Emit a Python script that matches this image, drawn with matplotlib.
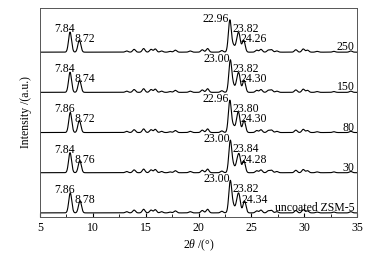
import numpy as np
import matplotlib
matplotlib.use("Agg")
import matplotlib.pyplot as plt
from matplotlib.ticker import MultipleLocator

plt.rcParams['font.family'] = ['Liberation Serif', 'DejaVu Serif']
plt.rcParams['mathtext.fontset'] = 'custom'
plt.rcParams['mathtext.rm'] = 'Liberation Serif'
plt.rcParams['mathtext.it'] = 'Liberation Serif:italic'

# samples, bottom to top
samples = ['uncoated ZSM-5', '30', '80', '150', '250']

# labelled peak positions (2theta) for each sample
peak_pos = [
    [7.86, 8.78, 23.00, 23.82, 24.34],
    [7.84, 8.76, 23.00, 23.84, 24.28],
    [7.86, 8.72, 22.96, 23.80, 24.30],
    [7.84, 8.74, 23.00, 23.82, 24.30],
    [7.84, 8.72, 22.96, 23.82, 24.26],
]
peak_lbl = [
    ['7.86', '8.78', '23.00', '23.82', '24.34'],
    ['7.84', '8.76', '23.00', '23.84', '24.28'],
    ['7.86', '8.72', '22.96', '23.80', '24.30'],
    ['7.84', '8.74', '23.00', '23.82', '24.30'],
    ['7.84', '8.72', '22.96', '23.82', '24.26'],
]
peak_h = [0.5, 0.3, 0.8, 0.42, 0.3]

# weaker reflections, common to all samples
minor_pos = [13.2, 13.9, 14.8, 15.5, 15.9, 16.5, 17.3, 17.8, 19.2, 20.35,
             20.85, 22.2, 23.3, 23.62, 25.5, 25.9, 26.6, 26.9, 27.4, 29.2,
             29.9, 30.3, 31.2, 32.8, 34.4]
minor_h = [0.03, 0.07, 0.09, 0.07, 0.08, 0.03, 0.02, 0.05, 0.03, 0.06,
           0.09, 0.04, 0.15, 0.2, 0.05, 0.07, 0.05, 0.06, 0.03, 0.06,
           0.08, 0.05, 0.02, 0.02, 0.03]

x = np.linspace(5, 35, 3000)

def profile(pos, h, w):
    return h * np.exp(-0.5 * ((x - pos) / w) ** 2)

fig = plt.figure(figsize=(3.74, 2.57), dpi=100)
ax = fig.add_axes([0.107, 0.156, 0.848, 0.813])

# label offsets (dx, height above baseline) for the labelled peaks
lbl_dx = [-0.5, 0.5, -1.3, 0.65, 0.95]
lbl_dy = [0.5, 0.25, 0.76, 0.51, 0.25]

for i, name in enumerate(samples):
    y = np.zeros_like(x)
    for p, h in zip(peak_pos[i], peak_h):
        y += profile(p, h, 0.14)
    for p, h in zip(minor_pos, minor_h):
        y += profile(p, h, 0.13)
    ax.plot(x, y + i, color='black', lw=0.8)
    for p, t, dx, dy in zip(peak_pos[i], peak_lbl[i], lbl_dx, lbl_dy):
        ax.text(p + dx, i + dy, t, ha='center', va='baseline', fontsize=8.5)
    ax.text(34.75, i + 0.05, name, ha='right', va='baseline', fontsize=8.5)

ax.set_xlim(5, 35)
ax.set_ylim(-0.1, 5.1)
ax.set_yticks([])
ax.xaxis.set_major_locator(MultipleLocator(5))
ax.xaxis.set_minor_locator(MultipleLocator(2.5))
ax.tick_params(axis='x', direction='in', labelsize=8.5, length=3, top=False)
ax.tick_params(axis='x', which='minor', direction='in', length=2)
for s in ax.spines.values():
    s.set_linewidth(0.7)
    s.set_color('#555555')
ax.set_xlabel('2$\\theta$ /(°)', fontsize=8.5, labelpad=3)
ax.set_ylabel('Intensity /(a.u.)', fontsize=8.5, labelpad=6)

fig.savefig('out.png', dpi=100)
